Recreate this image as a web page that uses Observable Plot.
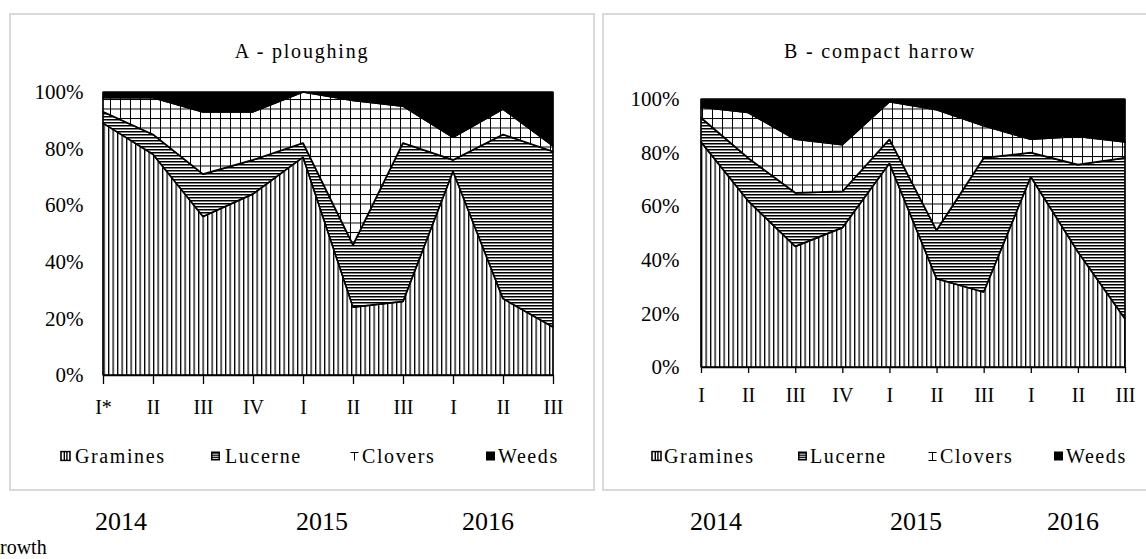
<!DOCTYPE html>
<html>
<head>
<meta charset="utf-8">
<script src="https://cdn.jsdelivr.net/npm/d3@7"></script>
<script src="https://cdn.jsdelivr.net/npm/@observablehq/plot@0.6"></script>
<style>
  html, body { margin: 0; padding: 0; background: #fff; }
  #chart { position: relative; width: 1146px; height: 559px; overflow: hidden; background: #fff;
           font-family: "Liberation Serif", "Times New Roman", serif; color: #000; }
  .panel { position: absolute; border: 2px solid #d9d9d9; box-sizing: border-box; }
  .abs { position: absolute; white-space: nowrap; line-height: 1; }
  .title { font-size: 20px; letter-spacing: 1.8px; transform: translate(-50%, -50%); }
  .year { font-size: 26px; transform: translate(-50%, -50%); }
  .leg { font-size: 20px; letter-spacing: 1.6px; transform: translateY(-50%); }
  .sw { position: absolute; transform: translateY(-50%); }
</style>
</head>
<body>
<svg width="0" height="0" style="position:absolute">
  <defs>
    <pattern id="patGram" patternUnits="userSpaceOnUse" width="4.5" height="10">
      <rect width="4.5" height="10" fill="#fff"/>
      <rect x="0" y="0" width="1.3" height="10" fill="#000"/>
    </pattern>
    <pattern id="patLuc" patternUnits="userSpaceOnUse" width="10" height="3">
      <rect width="10" height="3" fill="#fff"/>
      <rect x="0" y="0" width="10" height="1.5" fill="#000"/>
    </pattern>
    <pattern id="patClov" patternUnits="userSpaceOnUse" width="10" height="9.5">
      <rect width="10" height="9.5" fill="#fff"/>
      <rect x="0" y="0" width="1" height="9.5" fill="#000"/>
      <rect x="0" y="0" width="10" height="1" fill="#000"/>
    </pattern>
  </defs>
</svg>
<div id="chart"></div>
<script>
// ---------- data ----------
const series = ["Gramines", "Lucerne", "Clovers", "Weeds"];
const quartersA = ["I*", "II", "III", "IV", "I", "II", "III", "I", "II", "III"];
const quartersB = ["I", "II", "III", "IV", "I", "II", "III", "I", "II", "III"];
const years = ["2014", "2015", "2016"];

// A - ploughing (% share)
const gramA   = [89, 78, 56, 64, 77, 24, 26, 72, 27, 17];
const lucA    = [4, 7, 15, 12, 5, 22, 56, 4, 58, 62];
const clovA   = [5, 13, 22, 17, 18, 51, 13, 8, 9, 2];
const weedsA  = [2, 2, 7, 7, 0, 3, 5, 16, 6, 19];

// B - compact harrow (% share)
const gramB   = [84, 62, 45, 52, 76, 33, 28, 71, 43, 18];
const lucB    = [9, 16, 20, 13.5, 9, 18, 50, 9, 32.5, 60];
const clovB   = [4, 17, 20, 17.5, 14, 45, 12, 5, 10.5, 6];
const weedsB  = [3, 5, 15, 17, 1, 4, 10, 15, 14, 16];

const fills = ["url(#patGram)", "url(#patLuc)", "url(#patClov)", "#000"];

function toRows(cols) {
  const rows = [];
  series.forEach((s, k) => cols[k].forEach((v, i) => rows.push({i, series: s, value: v})));
  return rows;
}

const chart = document.getElementById("chart");
const NS = "http://www.w3.org/2000/svg";

function addDiv(cls, text, left, top, extra) {
  const d = document.createElement("div");
  d.className = cls;
  if (text != null) d.textContent = text;
  d.style.left = left + "px";
  d.style.top = top + "px";
  if (extra) Object.assign(d.style, extra);
  chart.appendChild(d);
  return d;
}

function el(name, attrs) {
  const e = document.createElementNS(NS, name);
  for (const k in attrs) e.setAttribute(k, attrs[k]);
  return e;
}

function swatch(left, top, kind, ibeam) {
  const s = el("svg", {width: 11, height: 11, class: "sw"});
  s.style.left = left + "px"; s.style.top = top + "px";
  if (kind === 0) {
    s.appendChild(el("rect", {x: 1, y: 1, width: 9, height: 9, fill: "#fff", stroke: "#000", "stroke-width": 1.6}));
    s.appendChild(el("rect", {x: 3.6, y: 1, width: 1.4, height: 9, fill: "#000"}));
    s.appendChild(el("rect", {x: 6.2, y: 1, width: 1.4, height: 9, fill: "#000"}));
  } else if (kind === 1) {
    s.appendChild(el("rect", {x: 1, y: 1, width: 9, height: 9, fill: "#000"}));
    [3.2, 5.3, 7.4].forEach(y => s.appendChild(el("rect", {x: 2.5, y, width: 6, height: 0.9, fill: "#fff"})));
  } else if (kind === 2) {
    s.appendChild(el("line", {x1: 1.5, x2: 9.5, y1: 2, y2: 2, stroke: "#000", "stroke-width": 1}));
    s.appendChild(el("line", {x1: 5.5, x2: 5.5, y1: 2, y2: 10, stroke: "#000", "stroke-width": 1}));
    if (ibeam) s.appendChild(el("line", {x1: 1.5, x2: 9.5, y1: 10, y2: 10, stroke: "#000", "stroke-width": 1}));
  } else {
    s.appendChild(el("rect", {x: 1, y: 1, width: 9, height: 9, fill: "#000"}));
  }
  chart.appendChild(s);
}

function makePlot(cols, labels, cfg) {
  const p = Plot.plot({
    width: cfg.width,
    height: cfg.height,
    marginLeft: cfg.ml, marginRight: cfg.mr, marginTop: cfg.mt, marginBottom: cfg.mb,
    style: {fontFamily: "Liberation Serif, Times New Roman, serif", fontSize: "20px", background: "transparent", color: "#000"},
    x: {type: "linear", domain: [0, labels.length - 1], label: null},
    y: {domain: [0, 100], label: null},
    color: {type: "ordinal", domain: series, range: fills},
    marks: [
      Plot.areaY(toRows(cols), {x: "i", y: "value", fill: "series", stroke: "#000", strokeWidth: 1.7, strokeLinejoin: "miter"}),
      Plot.ruleY([0], {stroke: "#000", strokeWidth: 1.7}),
      Plot.axisY({ticks: [0, 20, 40, 60, 80, 100], tickFormat: d => d + "%", tickSize: 0, tickPadding: cfg.ypad, label: null,
                  fontSize: 21, letterSpacing: "2.5px", fontFamily: "Liberation Serif, Times New Roman, serif"}),
      Plot.axisX({ticks: d3.range(labels.length), tickFormat: i => labels[i], tickSize: cfg.tick, tickPadding: cfg.xpad, label: null,
                  strokeWidth: 1.3, fontSize: 20, letterSpacing: "0.5px", fontFamily: "Liberation Serif, Times New Roman, serif"})
    ]
  });
  p.style.position = "absolute";
  p.style.left = cfg.left + "px";
  p.style.top = cfg.top + "px";
  chart.appendChild(p);
}

// panels (borders)
addDiv("panel", null, 9, 13, {width: "586px", height: "478px"});
addDiv("panel", null, 602, 13, {width: "560px", height: "478px"});

// titles
addDiv("abs title", "A - ploughing", 302, 51);
addDiv("abs title", "B - compact harrow", 880, 51);

makePlot([gramA, lucA, clovA, weedsA], quartersA,
  {left: 0, top: 80, width: 594, height: 340, ml: 103, mr: 41, mt: 12, mb: 45, ypad: 20, tick: 9, xpad: 15});
makePlot([gramB, lucB, clovB, weedsB], quartersB,
  {left: 602, top: 80, width: 544, height: 330, ml: 99, mr: 21, mt: 19, mb: 43, ypad: 22, tick: 6, xpad: 14});

// legends
const legA = [[60, 75], [210, 225], [349, 362], [485, 498]];
const legB = [[651, 664], [797, 810], [927, 940], [1053, 1066]];
[legA, legB].forEach((leg, p) => {
  leg.forEach(([sx, tx], k) => {
    swatch(sx, 456, k, p === 1);
    addDiv("abs leg", series[k], tx, 456);
  });
});

// years
[[121, 322, 488], [716, 916, 1073]].forEach(xs => xs.forEach((x, k) => addDiv("abs year", years[k], x, 522)));

// footnote text, cropped at the left edge in the original
addDiv("abs", "rowth", 0, 537, {fontSize: "20px"});
</script>
</body>
</html>
